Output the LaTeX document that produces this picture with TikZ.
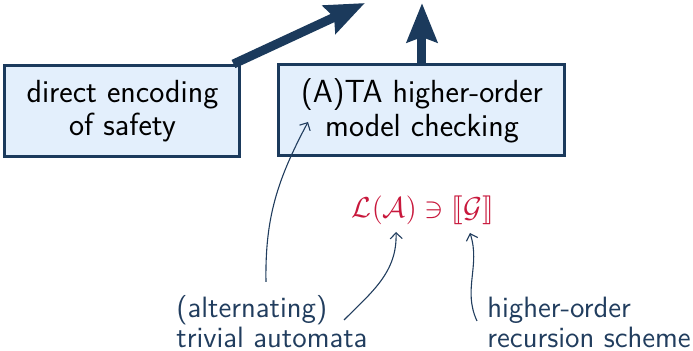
\documentclass[tikz,border=0pt]{standalone}
\usepackage{fontspec}
\usepackage{stmaryrd}
\usetikzlibrary{arrows.meta}
\definecolor{navy}{HTML}{1B3A5C}
\definecolor{boxfill}{HTML}{E3EFFC}
\definecolor{labelnavy}{HTML}{213D5E}
\definecolor{crimson}{HTML}{C8183C}
\tikzset{
  approach/.style={draw=navy, fill=boxfill, line width=1.5pt, align=center,
    inner sep=0pt, font=\sffamily\fontsize{16}{16.8}\selectfont},
  caption/.style={align=left, anchor=west, inner sep=0pt, text=labelnavy,
    font=\sffamily\fontsize{14.7}{15}\selectfont},
  bigarrow/.style={navy, line width=4.5pt,
    -{Stealth[length=19.5pt, width=15pt, inset=2.5pt]}},
  pointer/.style={labelnavy, line width=0.55pt,
    -{Straight Barb[length=3pt, width=6pt]}}
}
\begin{document}
\begin{tikzpicture}[x=0.5pt, y=-0.5pt]
  \useasboundingbox (0,0) rectangle (693,351);

  % the two approaches
  \node[approach, minimum width=117.5pt, minimum height=45.5pt] (direct) at (122.5,111)
    {direct encoding\\of safety};
  \node[approach, minimum width=143pt, minimum height=45.5pt] (ata) at (422,110.5)
    {(A)TA higher-order\\model checking};

  % outgoing thick arrows
  \coordinate (directtip) at (365,3);
  \coordinate (atatip) at (422,3);
  \draw[bigarrow] ([xshift=-4pt]direct.north east) -- (directtip);
  \draw[bigarrow] (ata.north) -- (atatip);

  % the membership statement
  \node[text=crimson, inner sep=0pt, font=\fontsize{13.5}{16}\selectfont] (stmt) at (423,210)
    {$\mathcal{L}(\mathcal{A}) \ni \llbracket\mathcal{G}\rrbracket$};
  \coordinate (lang) at (396,232);
  \coordinate (sem) at (470,233);
  \coordinate (boxin) at (308,122);

  % captions
  \node[caption] (automata) at (176,322) {(alternating)\\trivial automata};
  \node[caption] (scheme) at (487,322) {higher-order\\recursion scheme};

  \coordinate (autotop) at (266,282);
  \coordinate (autoend) at (344,320);
  \coordinate (schemeend) at (477,321);

  % thin pointers
  \draw[pointer] (autotop) to[out=91, in=-118] (boxin);
  \draw[pointer] (autoend) to[out=45, in=-88] (lang);
  \draw[pointer] (schemeend) to[out=115, in=-72] (sem);
\end{tikzpicture}
\end{document}
